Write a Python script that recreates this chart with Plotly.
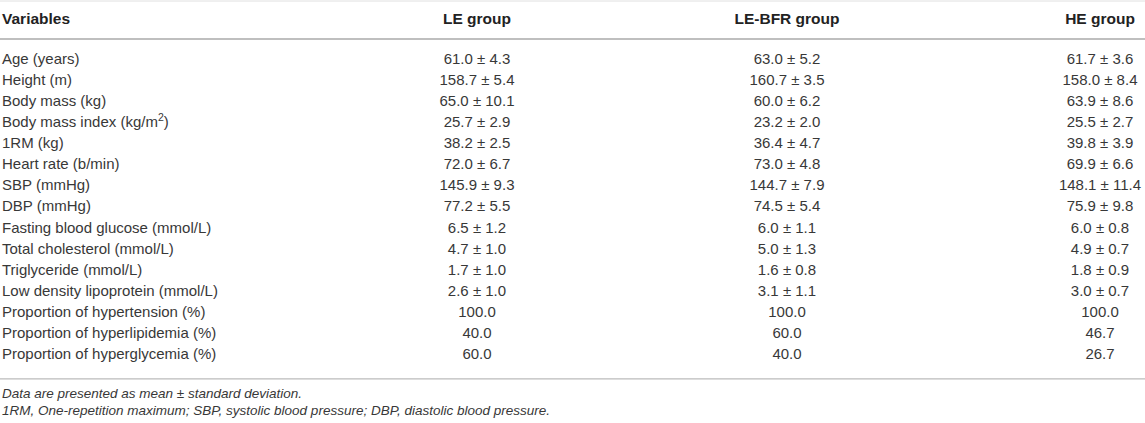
import plotly.graph_objects as go

# ── Table content ─────────────────────────────────────
headers = ['Variables', 'LE group', 'LE-BFR group', 'HE group']

variables = [
    'Age (years)', 'Height (m)', 'Body mass (kg)',
    'Body mass index (kg/m<sup>2</sup>)', '1RM (kg)', 'Heart rate (b/min)',
    'SBP (mmHg)', 'DBP (mmHg)', 'Fasting blood glucose (mmol/L)',
    'Total cholesterol (mmol/L)', 'Triglyceride (mmol/L)',
    'Low density lipoprotein (mmol/L)', 'Proportion of hypertension (%)',
    'Proportion of hyperlipidemia (%)', 'Proportion of hyperglycemia (%)',
]
le_group = ['61.0 ± 4.3', '158.7 ± 5.4', '65.0 ± 10.1', '25.7 ± 2.9', '38.2 ± 2.5',
            '72.0 ± 6.7', '145.9 ± 9.3', '77.2 ± 5.5', '6.5 ± 1.2', '4.7 ± 1.0',
            '1.7 ± 1.0', '2.6 ± 1.0', '100.0', '40.0', '60.0']
lebfr_group = ['63.0 ± 5.2', '160.7 ± 3.5', '60.0 ± 6.2', '23.2 ± 2.0', '36.4 ± 4.7',
               '73.0 ± 4.8', '144.7 ± 7.9', '74.5 ± 5.4', '6.0 ± 1.1', '5.0 ± 1.3',
               '1.6 ± 0.8', '3.1 ± 1.1', '100.0', '60.0', '40.0']
he_group = ['61.7 ± 3.6', '158.0 ± 8.4', '63.9 ± 8.6', '25.5 ± 2.7', '39.8 ± 3.9',
            '69.9 ± 6.6', '148.1 ± 11.4', '75.9 ± 9.8', '6.0 ± 0.8', '4.9 ± 0.7',
            '1.8 ± 0.9', '3.0 ± 0.7', '100.0', '46.7', '26.7']

footnotes = [
    'Data are presented as mean ± standard deviation.',
    '1RM, One-repetition maximum; SBP, systolic blood pressure; DBP, diastolic blood pressure.',
]

# ── Layout constants ──────────────────────────────────
W, H = 1145, 423
FONT = 'Liberation Sans, Arial, sans-serif'
TEXT = '#383838'
HEAD_Y = 20
RULE_HEAD = 39
ROW0, PITCH = 60, 21.1
COL_X = [2, 477, 787, 1100]

row_y = [ROW0 + i * PITCH for i in range(len(variables))]
RULE_BOTTOM = row_y[-1] + 23.5
FOOT_Y = [RULE_BOTTOM + 16, RULE_BOTTOM + 33]

fig = go.Figure()

# header row
fig.add_trace(go.Scatter(
    x=[COL_X[0]], y=[HEAD_Y], mode='text', text=['<b>' + headers[0] + '</b>'],
    textposition='middle right', textfont=dict(family=FONT, size=15.5, color='#222'),
    hoverinfo='skip', showlegend=False))
fig.add_trace(go.Scatter(
    x=COL_X[1:], y=[HEAD_Y] * 3, mode='text',
    text=['<b>' + h + '</b>' for h in headers[1:]],
    textposition='middle center', textfont=dict(family=FONT, size=15.5, color='#222'),
    hoverinfo='skip', showlegend=False))

# body rows
fig.add_trace(go.Scatter(
    x=[COL_X[0]] * len(variables), y=row_y, mode='text', text=variables,
    textposition='middle right', textfont=dict(family=FONT, size=15, color=TEXT),
    hoverinfo='skip', showlegend=False))
for cx, col in zip(COL_X[1:], [le_group, lebfr_group, he_group]):
    fig.add_trace(go.Scatter(
        x=[cx] * len(col), y=row_y, mode='text', text=col,
        textposition='middle center', textfont=dict(family=FONT, size=15, color=TEXT),
        hoverinfo='skip', showlegend=False))

# footnotes
fig.add_trace(go.Scatter(
    x=[COL_X[0]] * 2, y=FOOT_Y, mode='text', text=['<i>' + f + '</i>' for f in footnotes],
    textposition='middle right', textfont=dict(family=FONT, size=13.5, color=TEXT),
    hoverinfo='skip', showlegend=False))

# horizontal rules
for yy, col, wd in [(1, '#e0e0e0', 1), (RULE_HEAD, '#aaaaaa', 1.5), (RULE_BOTTOM, '#bbbbbb', 1.2)]:
    fig.add_shape(type='line', xref='x', yref='y', x0=0, x1=W, y0=yy, y1=yy,
                  line=dict(color=col, width=wd))

fig.update_xaxes(range=[0, W], visible=False, fixedrange=True)
fig.update_yaxes(range=[H, 0], visible=False, fixedrange=True)
fig.update_layout(
    width=W, height=H, margin=dict(l=0, r=0, t=0, b=0),
    plot_bgcolor='white', paper_bgcolor='white',
)
fig.write_html('out.html', config={'displayModeBar': False},
               post_script="document.body.style.margin='0';")
